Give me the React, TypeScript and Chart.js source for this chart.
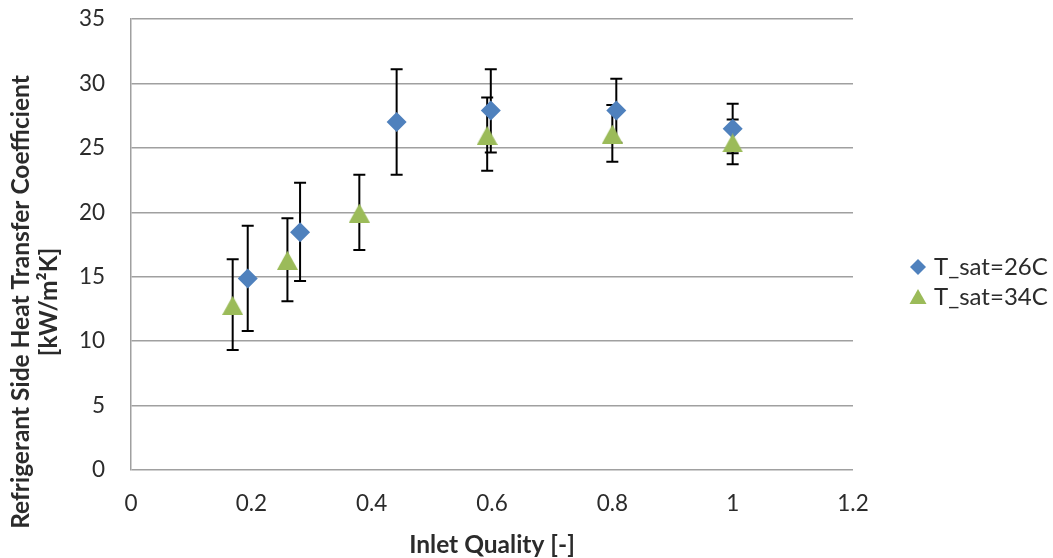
import React, { useEffect, useRef } from 'react';
import { Chart, registerables } from 'chart.js';

Chart.register(...registerables);

// ---- data ----
const xTicks = [0, 0.2, 0.4, 0.6, 0.8, 1, 1.2];
const xTickLabels = ['0', '0.2', '0.4', '0.6', '0.8', '1', '1.2'];
const yTicks = [0, 5, 10, 15, 20, 25, 30, 35];
const yTickLabels = ['0', '5', '10', '15', '20', '25', '30', '35'];

const seriesNames = ['T_sat=26C', 'T_sat=34C'];
const seriesColors = ['#4F81BD', '#9BBB59'];

const t26X = [0.194, 0.281, 0.4415, 0.598, 0.8066, 1.0];
const t26Y = [14.87, 18.46, 27.0, 27.9, 27.9, 26.49];
const t26Hi = [18.95, 22.3, 31.1, 31.1, 30.37, 28.43];
const t26Lo = [10.79, 14.67, 22.92, 24.63, 25.4, 24.58];

const t34X = [0.169, 0.26, 0.3795, 0.592, 0.8, 1.0];
const t34Y = [12.78, 16.27, 19.94, 25.96, 26.07, 25.38];
const t34Hi = [16.35, 19.53, 22.92, 28.9, 28.33, 27.21];
const t34Lo = [9.31, 13.09, 17.07, 23.23, 23.93, 23.72];

const xTitle = 'Inlet Quality [-]';
const yTitleLines = ['Refrigerant Side Heat Transfer Coefficient', '[kW/m\u00B2K]'];

const FONT = 'Lato';
const TEXT = '#2b2b2b';
const GRID = '#a0a0a0';

function makeTriangle(w: number, h: number, color: string) {
  const c = document.createElement('canvas');
  c.width = w;
  c.height = h;
  const g = c.getContext('2d')!;
  g.fillStyle = color;
  g.beginPath();
  g.moveTo(w / 2, 0);
  g.lineTo(w, h);
  g.lineTo(0, h);
  g.closePath();
  g.fill();
  return c;
}

function toPoints(xs: number[], ys: number[], hi: number[], lo: number[]) {
  return xs.map((x, i) => ({ x, y: ys[i], yMax: hi[i], yMin: lo[i] }));
}

const errorBarsPlugin = {
  id: 'errorBars',
  beforeDatasetsDraw(chart: any) {
    const { ctx, scales } = chart;
    const x = scales.x;
    const y = scales.y;
    ctx.save();
    ctx.strokeStyle = '#000000';
    ctx.lineWidth = 2;
    chart.data.datasets.forEach((ds: any) => {
      ds.data.forEach((p: any) => {
        const px = x.getPixelForValue(p.x);
        const top = y.getPixelForValue(p.yMax);
        const bot = y.getPixelForValue(p.yMin);
        ctx.beginPath();
        ctx.moveTo(px, top);
        ctx.lineTo(px, bot);
        ctx.moveTo(px - 6, top);
        ctx.lineTo(px + 6, top);
        ctx.moveTo(px - 6, bot);
        ctx.lineTo(px + 6, bot);
        ctx.stroke();
      });
    });
    ctx.restore();
  },
};

const titlesAndLegendPlugin = {
  id: 'titlesAndLegend',
  afterDraw(chart: any) {
    const { ctx, chartArea } = chart;
    ctx.save();
    // y-axis title (two lines, rotated)
    ctx.fillStyle = TEXT;
    ctx.font = `bold 24.5px ${FONT}`;
    ctx.textAlign = 'center';
    ctx.textBaseline = 'middle';
    const cy = 302;
    yTitleLines.forEach((line, i) => {
      ctx.save();
      ctx.translate(21 + i * 28, cy);
      ctx.rotate(-Math.PI / 2);
      ctx.fillText(line, 0, 0);
      ctx.restore();
    });
    // legend
    const lx = chartArea.right + 65;
    const ly = 267;
    ctx.font = `24px ${FONT}`;
    ctx.textAlign = 'left';
    seriesNames.forEach((name, i) => {
      const y = ly + i * 30;
      ctx.fillStyle = seriesColors[i];
      ctx.beginPath();
      if (i === 0) {
        ctx.moveTo(lx - 8, y);
        ctx.lineTo(lx, y - 8);
        ctx.lineTo(lx + 8, y);
        ctx.lineTo(lx, y + 8);
      } else {
        ctx.moveTo(lx, y - 8);
        ctx.lineTo(lx + 8.5, y + 7);
        ctx.lineTo(lx - 8.5, y + 7);
      }
      ctx.closePath();
      ctx.fill();
      ctx.fillStyle = TEXT;
      ctx.fillText(name, lx + 16, y);
    });
    ctx.restore();
  },
};

export default function App() {
  const canvasRef = useRef<HTMLCanvasElement | null>(null);

  useEffect(() => {
    document.body.style.margin = '0';
    const canvas = canvasRef.current;
    if (!canvas) return;
    const tri = makeTriangle(21, 19, seriesColors[1]);

    const chart = new Chart(canvas, {
      type: 'scatter',
      data: {
        datasets: [
          {
            label: seriesNames[0],
            data: toPoints(t26X, t26Y, t26Hi, t26Lo),
            pointStyle: 'rectRot',
            pointRadius: 10,
            pointHoverRadius: 10,
            pointBackgroundColor: seriesColors[0],
            pointBorderWidth: 0,
            borderColor: seriesColors[0],
            backgroundColor: seriesColors[0],
            order: 1,
          },
          {
            label: seriesNames[1],
            data: toPoints(t34X, t34Y, t34Hi, t34Lo),
            pointStyle: tri as any,
            pointRadius: 11,
            pointHoverRadius: 11,
            pointBackgroundColor: seriesColors[1],
            pointBorderWidth: 0,
            borderColor: seriesColors[1],
            backgroundColor: seriesColors[1],
            order: 0,
          },
        ],
      },
      options: {
        animation: false,
        responsive: true,
        maintainAspectRatio: false,
        layout: { padding: { top: 19, right: 200, left: 0, bottom: 0 } },
        plugins: {
          legend: { display: false },
          tooltip: { enabled: false },
        },
        scales: {
          x: {
            type: 'linear',
            min: 0,
            max: 1.2,
            afterBuildTicks: (s: any) => {
              s.ticks = xTicks.map((v) => ({ value: v }));
            },
            afterFit: (s: any) => {
              s.height = 88;
            },
            ticks: {
              callback: (_v: any, i: number) => xTickLabels[i],
              color: TEXT,
              font: { family: FONT, size: 22.5 },
              padding: 20,
              maxRotation: 0,
              autoSkip: false,
            },
            grid: { display: false, drawTicks: false },
            border: { display: false },
            title: {
              display: true,
              text: xTitle,
              color: TEXT,
              font: { family: FONT, size: 24.5, weight: 'bold' },
              padding: { top: 0, bottom: -2 },
            },
          },
          y: {
            type: 'linear',
            min: 0,
            max: 35,
            afterBuildTicks: (s: any) => {
              s.ticks = yTicks.map((v) => ({ value: v }));
            },
            afterFit: (s: any) => {
              s.width = 131;
              s.paddingTop = 0;
              s.paddingBottom = 0;
            },
            ticks: {
              callback: (_v: any, i: number) => yTickLabels[i],
              color: TEXT,
              font: { family: FONT, size: 22.5 },
              padding: 26,
              autoSkip: false,
            },
            grid: { color: GRID, lineWidth: 1.5, drawTicks: false },
            border: { display: true, color: GRID, width: 1.5 },
          },
        },
      },
      plugins: [errorBarsPlugin, titlesAndLegendPlugin],
    });
    return () => chart.destroy();
  }, []);

  return (
    <div style={{ position: 'relative', width: '1053px', height: '558px', background: '#fff' }}>
      <canvas ref={canvasRef} />
    </div>
  );
}
